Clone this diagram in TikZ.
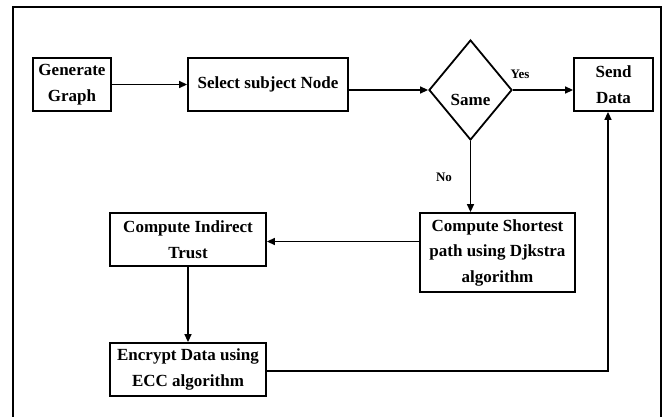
\documentclass[tikz,border=0pt]{standalone}
\usepackage{fontspec}
\setmainfont{Liberation Serif}
\usetikzlibrary{arrows.meta,shapes.geometric}
\begin{document}
\begin{tikzpicture}[x=1pt,y=-1pt,
  box/.style={draw, line width=1.8pt, rectangle, align=center, inner sep=0pt,
    font=\fontsize{17}{25.5}\selectfont\bfseries},
  lbl/.style={inner sep=0pt, font=\fontsize{17}{25.5}\selectfont\bfseries},
  small/.style={inner sep=0pt, font=\fontsize{13}{16}\selectfont\bfseries},
  arr/.style={line width=1.4pt, -{Triangle[length=8pt,width=7pt]}},
  conn/.style={line width=1.4pt}]
\useasboundingbox (0,0) rectangle (666,417);
\draw[line width=2pt] (13,417) -- (13,7) -- (661,7) -- (661,417);

\node[box, minimum width=78pt, minimum height=53pt] (gen) at (72,84.5) {Generate\\Graph};
\node[box, minimum width=160pt, minimum height=53pt] (sel) at (268,84.5) {Select subject Node};
\node[draw, diamond, line width=1.8pt, minimum width=83pt, minimum height=100pt, inner sep=0pt] (same) at (470.5,90) {};
\node[lbl] (samet) at ([yshift=-10pt]same.center) {Same};
\node[box, minimum width=79pt, minimum height=53pt] (send) at (613.5,84.5) {Send\\Data};
\node[box, minimum width=155pt, minimum height=79pt] (csp) at (497.5,252.5) {Compute Shortest\\path using Djkstra\\algorithm};
\node[box, minimum width=156pt, minimum height=53pt] (cit) at (188,239.5) {Compute Indirect\\Trust};
\node[box, minimum width=156pt, minimum height=53pt] (enc) at (188,369.5) {Encrypt Data using\\ECC algorithm};

\node[small] (yes) at (520,74) {Yes};
\node[small] (no) at (444,177) {No};

\draw[arr] (gen.east) -- (sel.west);
\draw[arr] (sel.east |- same.west) -- (same.west);
\draw[arr] (same.east) -- (same.east -| send.west);
\draw[arr] (same.south) -- (same.south |- csp.north);
\draw[arr] ([yshift=-2pt]cit.east -| csp.west) -- ([yshift=-2pt]cit.east);
\draw[arr] (cit.south) -- (enc.north);
\coordinate (turn) at (608,371);
\draw[arr] (enc.east |- turn) -- (turn) -- (turn |- send.south);
\end{tikzpicture}
\end{document}
